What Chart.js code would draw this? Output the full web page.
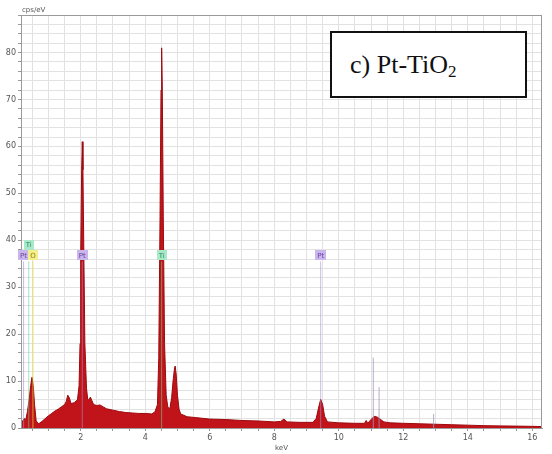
<!DOCTYPE html>
<html>
<head>
<meta charset="utf-8">
<script src="https://cdn.jsdelivr.net/npm/chart.js@4"></script>
<style>
  body { margin: 0; background: #fff; }
  #wrap { position: relative; width: 552px; height: 454px; }
  #inset {
    position: absolute; left: 330px; top: 31px; height: 63px; width: 175px;
    border: 2px solid #111; background: #fff;
    font-family: "Liberation Serif", "DejaVu Serif", serif; font-size: 26px; color: #111;
    line-height: 63px; padding-left: 18px;
  }
  #inset sub { font-size: 17px; vertical-align: -4px; line-height: 0; }
</style>
</head>
<body>
<div id="wrap">
  <canvas id="c" width="552" height="454"></canvas>
  <div id="inset">c) Pt-TiO<sub>2</sub></div>
</div>
<script>
// spectrum (keV / cps per eV)
const energy = [0.15, 0.2, 0.25, 0.3, 0.35, 0.4, 0.45, 0.49, 0.53, 0.57, 0.62, 0.7, 0.8, 0.9, 1.0, 1.1, 1.2, 1.3, 1.4, 1.5,
  1.55, 1.6, 1.65, 1.7, 1.8, 1.9, 1.95, 1.98, 2.0, 2.03, 2.05, 2.07, 2.1, 2.13, 2.18, 2.22, 2.26, 2.3, 2.35, 2.4, 2.5, 2.6,
  2.7, 2.8, 3.0, 3.2, 3.4, 3.6, 3.8, 4.0, 4.2, 4.3, 4.38, 4.42, 4.46, 4.49, 4.51, 4.53, 4.56, 4.6, 4.65, 4.7, 4.76, 4.82,
  4.87, 4.91, 4.93, 4.96, 5.0, 5.05, 5.1, 5.3, 5.6, 6.0, 6.5, 7.0, 7.5, 8.0, 8.2, 8.3, 8.4, 8.8, 9.2, 9.3,
  9.38, 9.44, 9.5, 9.56, 9.65, 10.0, 10.5, 10.8, 10.85, 10.9, 11.0, 11.1, 11.2, 11.3, 11.4, 11.6, 12.0, 12.5, 13.0, 13.5,
  14.0, 14.5, 15.0, 15.5, 16.0, 16.3];
const counts = [0.5, 1.5, 2.0, 1.8, 3.5, 6.0, 9.0, 10.8, 9.0, 5.0, 1.5, 0.9, 1.4, 2.0, 2.6, 3.1, 3.6, 4.0, 4.5, 5.0,
  5.6, 7.0, 6.4, 5.2, 5.4, 6.0, 9.0, 18, 36, 55, 61, 55, 36, 18, 8.5, 6.0, 6.0, 6.6, 5.8, 5.0, 4.8, 4.9,
  4.5, 4.1, 3.8, 3.5, 3.3, 3.2, 3.1, 3.1, 3.0, 3.4, 5.0, 15, 45, 72, 81, 72, 45, 18, 7, 4.5, 4.0, 6.5,
  10.5, 12.8, 13.2, 11.5, 7.0, 4.0, 3.0, 2.4, 2.2, 1.9, 1.8, 1.6, 1.5, 1.3, 1.4, 1.9, 1.3, 1.2, 1.2, 2.0,
  4.5, 6.1, 5.0, 2.5, 1.3, 1.1, 1.0, 1.0, 1.6, 1.0, 1.8, 2.5, 2.3, 1.8, 1.3, 1.1, 1.0, 0.9, 0.8, 0.7,
  0.6, 0.5, 0.45, 0.4, 0.35, 0.3];

// labelled element markers
const markerElement = ['Pt', 'Ti', 'O', 'Pt', 'Ti', 'Pt'];
const markerEnergy = [0.23, 0.39, 0.52, 2.05, 4.51, 9.44];
const markerLabelY = [36.8, 39.0, 36.8, 36.8, 36.8, 36.8];
const markerTop = [35.5, 35.5, 35.5, 35.5, 35.5, 35.5];

// unlabelled Pt lines
const extraEnergy = [11.07, 11.25, 12.94];
const extraTop = [15, 8.7, 3];

const xTicks = [2, 4, 6, 8, 10, 12, 14, 16];
const yTicks = [0, 10, 20, 30, 40, 50, 60, 70, 80];

const elementStyle = {
  Pt: {line: 'rgba(170,140,205,0.6)', box: '#c9b6ec', text: '#6b3fa0'},
  Ti: {line: 'rgba(110,210,140,0.6)', box: '#a9e9c9', text: '#2a8a5a'},
  O:  {line: 'rgba(230,215,60,0.7)', box: '#f3ef8c', text: '#8f8010'}
};

const datasets = [];
markerEnergy.forEach((e, i) => {
  datasets.push({
    data: [{x: e, y: 0}, {x: e, y: markerTop[i]}],
    borderColor: elementStyle[markerElement[i]].line,
    borderWidth: 1, pointRadius: 0, fill: false, order: 0
  });
});
extraEnergy.forEach((e, i) => {
  datasets.push({
    data: [{x: e, y: 0}, {x: e, y: extraTop[i]}],
    borderColor: 'rgba(165,150,185,0.8)',
    borderWidth: 1, pointRadius: 0, fill: false, order: 0
  });
});
datasets.push({
  data: energy.map((e, i) => ({x: e, y: counts[i]})),
  borderColor: '#9c0a0e',
  backgroundColor: '#c0141a',
  borderWidth: 1, pointRadius: 0, fill: 'origin', order: 10
});

const framePlugin = {
  id: 'frame',
  afterDraw(chart) {
    const {ctx, chartArea: a, scales} = chart;
    ctx.save();
    ctx.strokeStyle = '#9a9a9a';
    ctx.lineWidth = 1;
    ctx.strokeRect(a.left + 0.5, a.top + 0.5, a.right - a.left - 1, a.bottom - a.top);
    // axis unit
    ctx.fillStyle = '#555';
    ctx.font = '7px "DejaVu Sans", sans-serif';
    ctx.textBaseline = 'bottom';
    ctx.fillText('cps/eV', a.left + 1, a.top - 1);
    // element labels
    ctx.textBaseline = 'middle';
    ctx.textAlign = 'center';
    markerElement.forEach((el, i) => {
      const st = elementStyle[el];
      const px = scales.x.getPixelForValue(markerEnergy[i]);
      const py = scales.y.getPixelForValue(markerLabelY[i]);
      const w = ctx.measureText(el).width + 4;
      ctx.fillStyle = st.box;
      ctx.fillRect(Math.round(px - w / 2), Math.round(py - 5), Math.round(w), 10);
      ctx.fillStyle = st.text;
      ctx.fillText(el, px, py + 0.5);
    });
    ctx.restore();
  }
};

new Chart(document.getElementById('c'), {
  type: 'line',
  data: {datasets},
  options: {
    responsive: false,
    devicePixelRatio: 1,
    animation: false,
    layout: {padding: {left: 0, top: 15, right: 10, bottom: 2}},
    plugins: {legend: {display: false}, tooltip: {enabled: false}},
    scales: {
      x: {
        type: 'linear', min: 0.15, max: 16.3,
        afterFit: s => { s.height = 24; },
        grid: {color: '#e2e2e2', tickLength: 3, tickColor: '#999'},
        border: {color: '#9a9a9a'},
        ticks: {
          stepSize: 0.5, includeBounds: false, autoSkip: false, maxRotation: 0,
          padding: 2, color: '#555', font: {size: 8, family: '"DejaVu Sans", sans-serif'},
          callback: v => xTicks.includes(v) ? String(v) : ''
        },
        title: {display: true, text: 'keV', color: '#555', padding: 0,
                font: {size: 7, family: '"DejaVu Sans", sans-serif'}}
      },
      y: {
        min: 0, max: 88,
        afterFit: s => { s.width = 21; },
        grid: {color: '#e2e2e2', tickLength: 3, tickColor: '#999'},
        border: {color: '#9a9a9a'},
        ticks: {
          stepSize: 2, includeBounds: false, autoSkip: false, padding: 2,
          color: '#555', font: {size: 8, family: '"DejaVu Sans", sans-serif'},
          callback: v => yTicks.includes(v) ? String(v) : ''
        }
      }
    }
  },
  plugins: [framePlugin]
});
</script>
</body>
</html>
